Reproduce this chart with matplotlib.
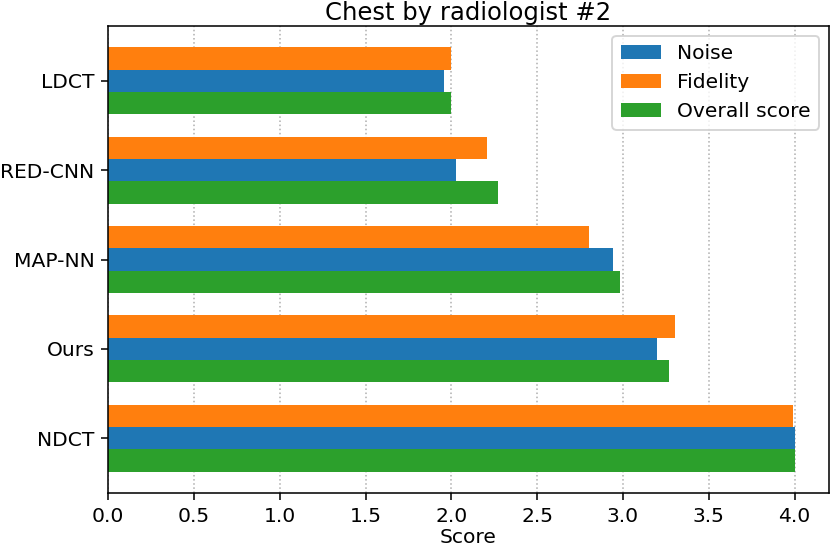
import matplotlib
matplotlib.use("Agg")
import matplotlib.pyplot as plt
import numpy as np

methods = ["LDCT", "RED-CNN", "MAP-NN", "Ours", "NDCT"]
noise = [1.96, 2.03, 2.94, 3.20, 4.00]
fidelity = [2.00, 2.21, 2.80, 3.30, 3.99]
overall = [2.00, 2.27, 2.98, 3.27, 4.00]

plt.rcParams["font.size"] = 10.4

fig = plt.figure(figsize=(830 / 140, 548 / 140), dpi=140)
ax = fig.add_axes([108 / 830, 1 - 493 / 548, 721 / 830, 467 / 548])

# NDCT sits at the bottom, LDCT at the top
y = np.arange(len(methods))[::-1]
h = 0.25
ax.barh(y, noise, h, label="Noise", color="#1f77b4")
ax.barh(y + h, fidelity, h, label="Fidelity", color="#ff7f0e")
ax.barh(y - h, overall, h, label="Overall score", color="#2ca02c")

ax.set_yticks(y)
ax.set_yticklabels(methods)
ax.set_xticks(np.arange(0, 4.01, 0.5))
ax.set_xlabel("Score", labelpad=1)
ax.set_title("Chest by radiologist #2", pad=3)
ax.xaxis.grid(True, linestyle=":", color="#b0b0b0")
ax.set_axisbelow(True)
ax.legend(loc="upper right")

fig.savefig("out.png", dpi=140)
